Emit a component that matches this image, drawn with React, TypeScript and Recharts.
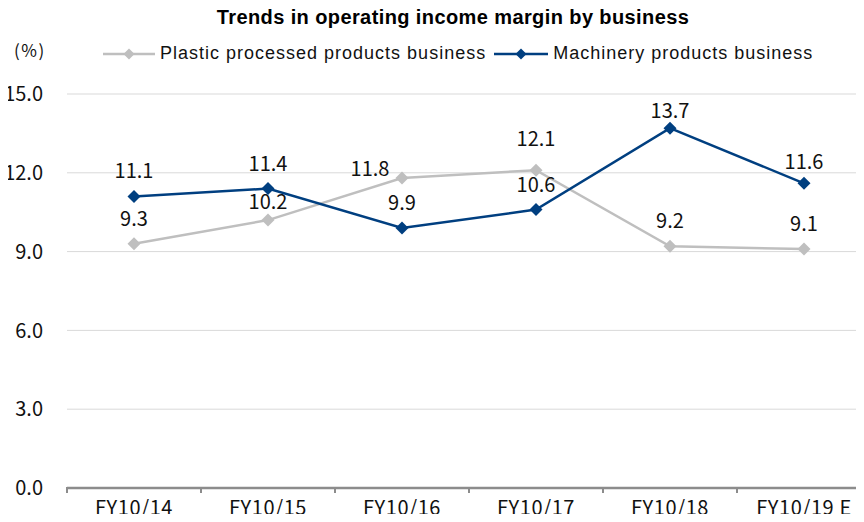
import { CartesianGrid, LabelList, Line, LineChart, XAxis, YAxis } from "recharts"

const years = ["FY10/14", "FY10/15", "FY10/16", "FY10/17", "FY10/18", "FY10/19 E"]
const plastic = [9.3, 10.2, 11.8, 12.1, 9.2, 9.1]
const machinery = [11.1, 11.4, 9.9, 10.6, 13.7, 11.6]
const yTicks = [0, 3, 6, 9, 12, 15]

const seriesNames = ["Plastic processed products business", "Machinery products business"]
const gray = "#bfbfbf"
const blue = "#003f80"

// each year sits in the middle of its band; tick marks go on the band edges
const data = years.map((year, i) => ({ year, pos: i + 0.5, plastic: plastic[i], machinery: machinery[i] }))
const xTicks = [0, ...years.flatMap((_, i) => [i + 0.5, i + 1])]

const font = "'Liberation Sans', Arial, sans-serif"
const numFont = "'Noto Sans CJK JP', 'Liberation Sans', sans-serif"

// hand nudges for labels that Excel moved off the lines
const labelNudge: Record<string, { dx?: number; off?: number }> = {
  "plastic-1": { off: 11 },
  "plastic-2": { dx: -32, off: 2 },
  "plastic-3": { off: 24 },
  "machinery-4": { off: 10 },
  "machinery-5": { off: 14 },
}

function Diamond(props: any) {
  const { cx, cy, fill } = props
  if (cx == null || cy == null) return null
  const r = 6.5
  return <polygon points={`${cx},${cy - r} ${cx + r},${cy} ${cx},${cy + r} ${cx - r},${cy}`} fill={fill} />
}

function ValueLabel(props: any) {
  const { x, y, value, index, series } = props
  const n = labelNudge[`${series}-${index}`] || {}
  return (
    <text x={x + (n.dx ?? 0)} y={y - (n.off ?? 18)} textAnchor="middle" fontSize={20} fontFamily={numFont} fill="#111">
      {Number(value).toFixed(1)}
    </text>
  )
}

function XTick(props: any) {
  const { x, y, payload } = props
  const v = payload.value
  if (Number.isInteger(v)) {
    return <line x1={x} y1={y - 1} x2={x} y2={y + 5} stroke="#8c8c8c" strokeWidth={2} />
  }
  return (
    <text x={x} y={y + 27} textAnchor="middle" fontSize={20} letterSpacing={0.6} fontFamily={numFont} fill="#111">
      {years[Math.floor(v)]}
    </text>
  )
}

function LegendItem({ color, label, width }: { color: string; label: string; width: number }) {
  return (
    <div style={{ display: "flex", alignItems: "center", marginRight: 8 }}>
      <svg width={width} height={14} style={{ marginRight: 5 }}>
        <line x1={0} y1={7} x2={width} y2={7} stroke={color} strokeWidth={2.5} />
        <polygon points={`${width / 2},1.5 ${width / 2 + 5.5},7 ${width / 2},12.5 ${width / 2 - 5.5},7`} fill={color} />
      </svg>
      <span>{label}</span>
    </div>
  )
}

export default function App() {
  return (
    <div style={{ position: "relative", margin: -8, width: 864, height: 522, overflow: "hidden", background: "#fff", fontFamily: font }}>
      <div style={{ position: "absolute", top: 6, left: 0, width: 906, textAlign: "center", fontWeight: "bold", fontSize: 20, letterSpacing: 0.4, color: "#000" }}>
        Trends in operating income margin by business
      </div>
      <div style={{ position: "absolute", top: 37, left: 14, fontSize: 17, letterSpacing: 1.5, fontFamily: numFont, color: "#111" }}>(%)</div>
      <div style={{ position: "absolute", top: 43, left: 103, display: "flex", fontSize: 18, letterSpacing: 1, color: "#111" }}>
        <LegendItem color={gray} label={seriesNames[0]} width={52} />
        <LegendItem color={blue} label={seriesNames[1]} width={54} />
      </div>
      <LineChart width={872} height={522} data={data} margin={{ top: 94, right: 1, bottom: 0, left: 7 }}>
        <CartesianGrid stroke="#d9d9d9" vertical={false} />
        <YAxis
          domain={[0, 15]}
          ticks={yTicks}
          width={60}
          axisLine={false}
          tickLine={false}
          tickSize={0}
          tickMargin={24}
          tickFormatter={(v: number) => v.toFixed(1)}
          tick={{ fill: "#111", fontSize: 20, fontFamily: numFont }}
        />
        <XAxis
          type="number"
          dataKey="pos"
          domain={[0, 6]}
          ticks={xTicks}
          interval={0}
          height={34}
          tickSize={0}
          tickMargin={0}
          tickLine={false}
          axisLine={{ stroke: "#8c8c8c", strokeWidth: 2.5 }}
          tick={<XTick />}
        />
        <Line
          dataKey="plastic"
          name={seriesNames[0]}
          stroke={gray}
          strokeWidth={2.5}
          dot={<Diamond fill={gray} />}
          activeDot={false}
          isAnimationActive={false}
        >
          <LabelList dataKey="plastic" content={<ValueLabel series="plastic" />} />
        </Line>
        <Line
          dataKey="machinery"
          name={seriesNames[1]}
          stroke={blue}
          strokeWidth={2.5}
          dot={<Diamond fill={blue} />}
          activeDot={false}
          isAnimationActive={false}
        >
          <LabelList dataKey="machinery" content={<ValueLabel series="machinery" />} />
        </Line>
      </LineChart>
    </div>
  )
}
